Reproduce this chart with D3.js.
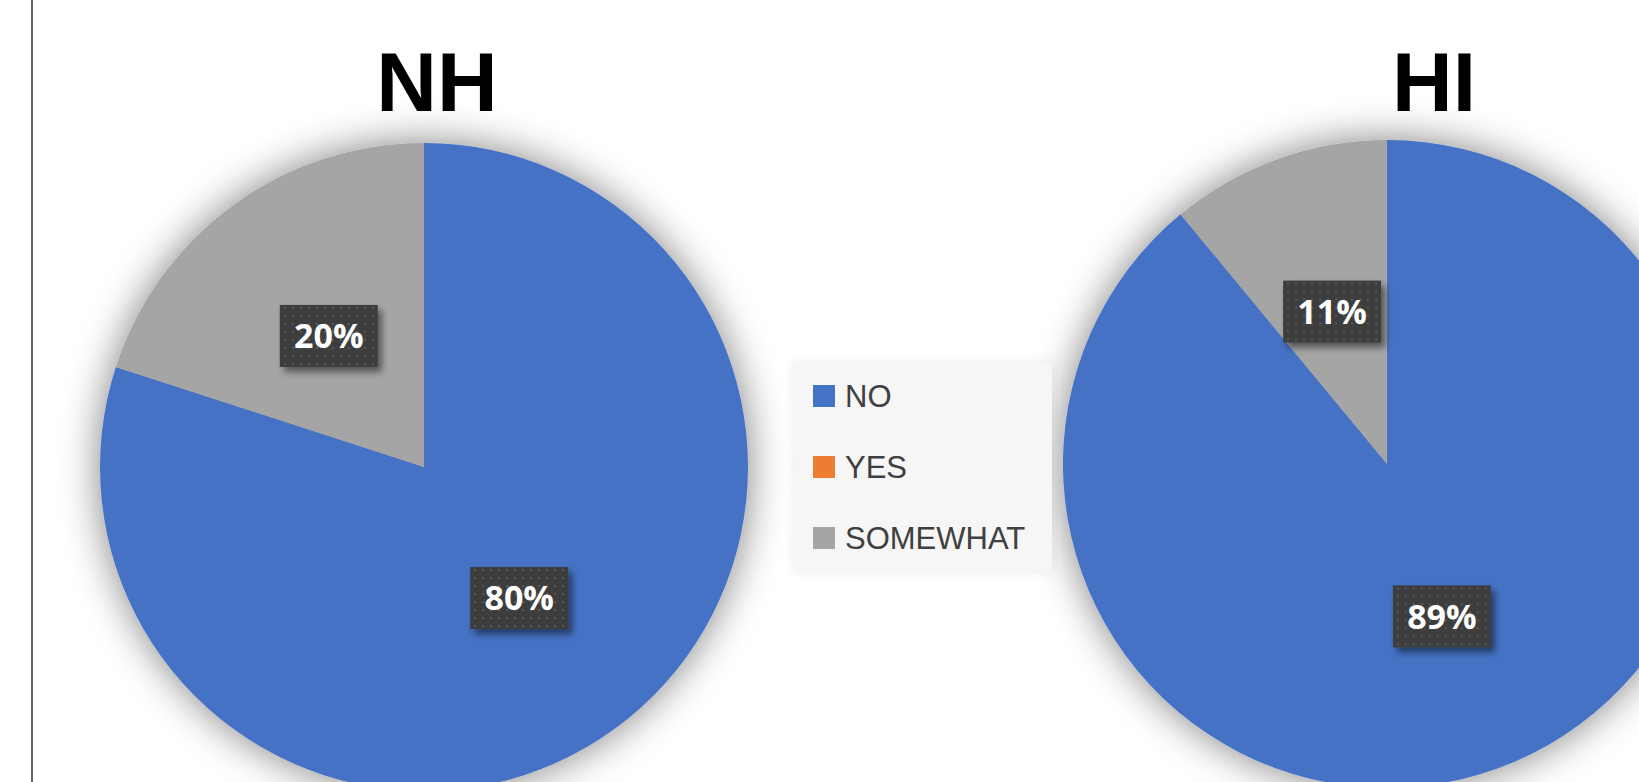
<!DOCTYPE html>
<html>
<head>
<meta charset="utf-8">
<script src="https://cdn.jsdelivr.net/npm/d3@7"></script>
<style>
  html, body { margin: 0; padding: 0; background: #fff; overflow: hidden; }
</style>
</head>
<body>
<script>
// data
var categories = ["NO", "YES", "SOMEWHAT"];
var colors = ["#4472C4", "#ED7D31", "#A5A5A5"];
var nhValues = [80, 0, 20];
var hiValues = [89, 0, 11];
var titles = ["NH", "HI"];

var width = 1639, height = 782;
var radius = 324;

var svg = d3.select("body").append("svg")
    .attr("width", width)
    .attr("height", height);

var defs = svg.append("defs");

// soft shadow around pies
var f = defs.append("filter").attr("id", "pieShadow")
    .attr("x", "-25%").attr("y", "-25%").attr("width", "150%").attr("height", "150%");
f.append("feGaussianBlur").attr("in", "SourceAlpha").attr("stdDeviation", 20).attr("result", "b");
f.append("feComponentTransfer").attr("in", "b").attr("result", "b2")
    .append("feFuncA").attr("type", "linear").attr("slope", 0.5);
var fm = f.append("feMerge");
fm.append("feMergeNode").attr("in", "b2");
fm.append("feMergeNode").attr("in", "SourceGraphic");

// label box shadow
var lf = defs.append("filter").attr("id", "boxShadow")
    .attr("x", "-30%").attr("y", "-30%").attr("width", "160%").attr("height", "160%");
lf.append("feGaussianBlur").attr("in", "SourceAlpha").attr("stdDeviation", 3.5).attr("result", "b");
lf.append("feOffset").attr("in", "b").attr("dx", 4).attr("dy", 5).attr("result", "o");
lf.append("feComponentTransfer").attr("in", "o").attr("result", "o2")
    .append("feFuncA").attr("type", "linear").attr("slope", 0.5);
var lm = lf.append("feMerge");
lm.append("feMergeNode").attr("in", "o2");
lm.append("feMergeNode").attr("in", "SourceGraphic");

// legend shadow
var gf = defs.append("filter").attr("id", "legShadow")
    .attr("x", "-20%").attr("y", "-20%").attr("width", "140%").attr("height", "140%");
gf.append("feGaussianBlur").attr("in", "SourceAlpha").attr("stdDeviation", 5).attr("result", "b");
gf.append("feComponentTransfer").attr("in", "b").attr("result", "b2")
    .append("feFuncA").attr("type", "linear").attr("slope", 0.08);
var gm = gf.append("feMerge");
gm.append("feMergeNode").attr("in", "b2");
gm.append("feMergeNode").attr("in", "SourceGraphic");

// dotted texture for data labels
var pat = defs.append("pattern").attr("id", "dots")
    .attr("width", 8).attr("height", 8).attr("patternUnits", "userSpaceOnUse");
pat.append("rect").attr("width", 8).attr("height", 8).attr("fill", "#3d3d3d");
pat.append("rect").attr("x", 3).attr("y", 3).attr("width", 2).attr("height", 2).attr("fill", "#5a5a5a");

// left border line
svg.append("line")
    .attr("x1", 32).attr("x2", 32)
    .attr("y1", 0).attr("y2", height)
    .attr("stroke", "#333").attr("stroke-width", 1.5);

var pie = d3.pie().sort(null).value(function (d) { return d.value; });
var arc = d3.arc().innerRadius(0).outerRadius(radius);

var charts = [
    { title: titles[0], values: nhValues, cx: 424, cy: 467, tx: 437 },
    { title: titles[1], values: hiValues, cx: 1387, cy: 464, tx: 1434 }
];

charts.forEach(function (c) {
    var data = categories.map(function (k, i) { return { key: k, value: c.values[i], color: colors[i] }; });
    var arcs = pie(data);

    var g = svg.append("g").attr("transform", "translate(" + c.cx + "," + c.cy + ")");
    g.append("g").attr("filter", "url(#pieShadow)")
        .selectAll("path").data(arcs).enter()
        .append("path")
        .attr("d", arc)
        .attr("fill", function (d) { return d.data.color; });

    // data labels at half radius
    var lab = g.selectAll("g.lab").data(arcs.filter(function (d) { return d.data.value > 0; }))
        .enter().append("g").attr("class", "lab")
        .attr("transform", function (d) { var p = arc.centroid(d); return "translate(" + p[0] + "," + p[1] + ")"; });
    lab.append("rect")
        .attr("x", -49).attr("y", -31).attr("width", 98).attr("height", 62)
        .attr("fill", "url(#dots)")
        .attr("filter", "url(#boxShadow)");
    lab.append("text")
        .attr("text-anchor", "middle")
        .attr("dy", "0.36em")
        .style("font-family", "'Open Sans', sans-serif")
        .style("font-weight", "700")
        .style("font-size", "34px")
        .style("fill", "#fff")
        .text(function (d) { return d.data.value + "%"; });

    svg.append("text")
        .attr("x", c.tx).attr("y", 111)
        .attr("text-anchor", "middle")
        .style("font-family", "'Liberation Sans', Arial, sans-serif")
        .style("font-weight", "700")
        .style("font-size", "84px")
        .style("fill", "#000")
        .text(c.title);
});

// legend
var legend = svg.append("g").attr("transform", "translate(793,362)");
legend.append("rect")
    .attr("width", 259).attr("height", 210)
    .attr("fill", "#f6f6f6")
    .attr("filter", "url(#legShadow)");
var item = legend.selectAll("g.item").data(categories).enter()
    .append("g").attr("class", "item")
    .attr("transform", function (d, i) { return "translate(20," + (23 + i * 71) + ")"; });
item.append("rect")
    .attr("width", 22).attr("height", 22)
    .attr("fill", function (d, i) { return colors[i]; });
item.append("text")
    .attr("x", 32).attr("y", 22)
    .style("font-family", "'Liberation Sans', Arial, sans-serif")
    .style("font-size", "31px")
    .style("fill", "#404040")
    .text(function (d) { return d; });
</script>
</body>
</html>
